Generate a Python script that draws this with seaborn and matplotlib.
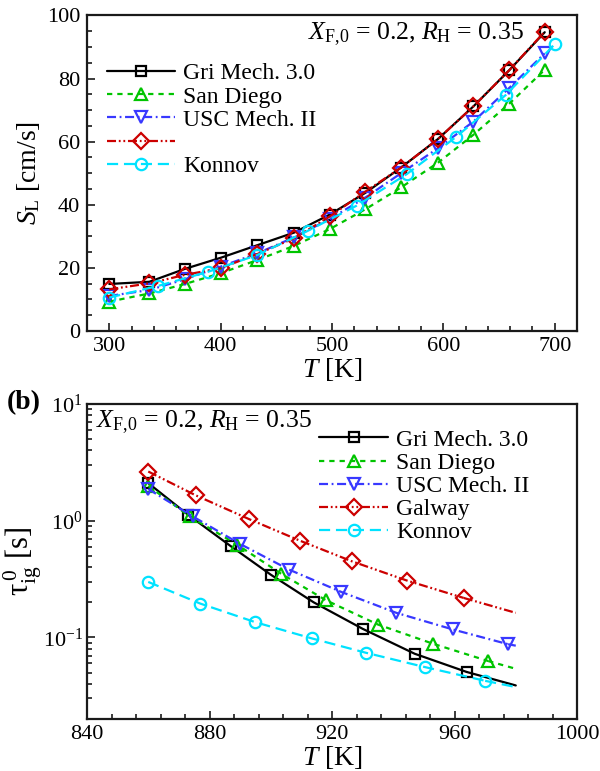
import matplotlib
matplotlib.use("Agg")
import matplotlib.pyplot as plt
import seaborn as sns
import numpy as np
from matplotlib.ticker import MultipleLocator, LogLocator, NullFormatter

# ---------------- data: panel (a) laminar flame speed ----------------
T_a = [300, 336, 368, 400, 433, 466, 498, 530, 562, 595, 627, 659, 691]
SL_gri = [14.9, 15.6, 19.7, 23.2, 27.2, 31.2, 36.9, 43.8, 51.8, 60.8, 71.2, 82.6, 94.7]
SL_sandiego = [9.3, 11.9, 14.9, 18.3, 22.5, 27.0, 32.3, 38.6, 45.5, 53.3, 62.2, 72.0, 82.8]
SL_usc = [11.1, 13.0, 16.4, 20.4, 24.6, 29.7, 35.5, 42.3, 50.0, 57.9, 66.4, 77.0, 88.0]
SL_galway = [13.2, 15.1, 17.8, 19.9, 24.4, 29.4, 36.3, 44.2, 51.8, 60.8, 71.2, 82.6, 94.9]
T_a_konnov = [300, 344, 389, 433, 478, 522, 567, 611, 656, 700]
SL_konnov = [10.6, 14.3, 18.8, 24.1, 31.7, 39.7, 49.7, 61.4, 74.8, 90.9]

# ---------------- data: panel (b) ignition delay ----------------
T_b_gri = [860, 873, 887, 900, 914, 930, 947, 964]
tau_gri = [2.10, 1.125, 0.604, 0.345, 0.200, 0.1186, 0.0725, 0.0506]
T_b_sandiego = [860, 873.5, 889, 903.5, 918, 935, 953, 971]
tau_sandiego = [1.99, 1.09, 0.624, 0.35, 0.2085, 0.129, 0.0883, 0.0628]
T_b_usc = [860, 874.5, 890, 906, 923, 941, 959.5, 977.5]
tau_usc = [1.87, 1.09, 0.632, 0.381, 0.2456, 0.1625, 0.117, 0.0875]
T_b_galway = [860, 875.5, 893, 909.5, 926.5, 944.5, 963]
tau_galway = [2.64, 1.65, 1.03, 0.675, 0.449, 0.307, 0.218]
T_b_konnov = [860, 877, 895, 913.5, 931, 950.5, 970]
tau_konnov = [0.299, 0.195, 0.135, 0.098, 0.074, 0.0556, 0.0425]
# curve end points (no marker)
T_b_end = 980
tau_end_gri = 0.0388
tau_end_sandiego = 0.0539
tau_end_usc = 0.085
tau_end_galway = 0.1625
tau_end_konnov = 0.0376

labels = ["Gri Mech. 3.0", "San Diego", "USC Mech. II", "Galway", "Konnov"]
hide_label_a = [False, False, False, True, False]   # panel (a) legend shows no Galway text

# ---------------- styles ----------------
colors = ["#000000", "#00C400", "#3838FF", "#CC0000", "#00E2FF"]
markers = ["s", "^", "v", "D", "o"]
msizes = [7.8, 9.2, 9.2, 7.8, 8.2]
lstyles = ["-", (0, (3.8, 3.6)), (0, (6.5, 2.6, 1.3, 2.6)),
           (0, (6.5, 2.0, 1.3, 2.0, 1.3, 2.0)), (0, (8.0, 4.2))]

sns.set_style("ticks")
plt.rcParams.update({
    "font.family": ["Liberation Serif", "DejaVu Serif"],
    "mathtext.fontset": "custom",
    "mathtext.rm": "Liberation Serif",
    "mathtext.it": "Liberation Serif:italic",
    "mathtext.bf": "Liberation Serif:bold",
    "lines.scale_dashes": False,
    "axes.edgecolor": "#1a1a1a",
    "axes.linewidth": 1.6,
    "text.color": "black",
    "axes.labelcolor": "black",
    "xtick.color": "#1a1a1a",
    "ytick.color": "#1a1a1a",
    "xtick.labelcolor": "black",
    "ytick.labelcolor": "black",
})

fig = plt.figure(figsize=(6.0, 7.71), dpi=100)
ax1 = fig.add_axes([0.145, 0.5707, 0.8167, 0.4092])
ax2 = fig.add_axes([0.145, 0.0674, 0.8167, 0.4086])


def draw(ax, x, y, i, label=None, with_markers=True):
    kw = dict(color=colors[i], linestyle=lstyles[i], linewidth=1.6)
    if with_markers:
        kw.update(marker=markers[i], markersize=msizes[i], markerfacecolor="none",
                  markeredgecolor=colors[i], markeredgewidth=1.6)
    else:
        kw.update(marker=None)
    if label is not None:
        kw["label"] = label
    sns.lineplot(x=x, y=y, ax=ax, errorbar=None, legend=False, sort=True, **kw)


legend_kw = dict(loc="upper left", frameon=False, fontsize=17, handlelength=2.9,
                 handletextpad=0.35, labelspacing=0.07, borderpad=0,
                 borderaxespad=0, numpoints=1)
annot = r"$X_{\mathrm{F{,}0}}$ = 0.2, $R_{\mathrm{H}}$ = 0.35"

# ---------------- panel (a) ----------------
series_a = [(T_a, SL_gri), (T_a, SL_sandiego), (T_a, SL_usc), (T_a, SL_galway),
            (T_a_konnov, SL_konnov)]
for i, (x, y) in enumerate(series_a):
    draw(ax1, x, y, i, label=labels[i])

ax1.set_xlim(280, 720)
ax1.set_ylim(0, 100)
ax1.xaxis.set_major_locator(MultipleLocator(100))
ax1.xaxis.set_minor_locator(MultipleLocator(20))
ax1.yaxis.set_major_locator(MultipleLocator(20))
ax1.yaxis.set_minor_locator(MultipleLocator(5))
ax1.set_xlabel(r"$T$ [K]", fontsize=20, labelpad=0)
ax1.set_ylabel(r"$S_{\mathrm{L}}$ [cm/s]", fontsize=20)
ax1.yaxis.set_label_coords(-0.092, 0.5)
ax1.text(0.892, 0.925, annot, transform=ax1.transAxes, ha="right", va="baseline",
         fontsize=18.5)
leg1 = ax1.legend(bbox_to_anchor=(0.04, 0.85), **legend_kw)
for t, hide in zip(leg1.get_texts(), hide_label_a):
    if hide:
        t.set_visible(False)

# ---------------- panel (b) ----------------
series_b = [(T_b_gri, tau_gri, tau_end_gri),
            (T_b_sandiego, tau_sandiego, tau_end_sandiego),
            (T_b_usc, tau_usc, tau_end_usc),
            (T_b_galway, tau_galway, tau_end_galway),
            (T_b_konnov, tau_konnov, tau_end_konnov)]
for i, (x, y, yend) in enumerate(series_b):
    draw(ax2, x, y, i, label=labels[i])
    draw(ax2, [x[-1], T_b_end], [y[-1], yend], i, with_markers=False)

ax2.set_yscale("log")
ax2.set_xlim(840, 1000)
ax2.set_ylim(0.02, 10)
ax2.xaxis.set_major_locator(MultipleLocator(40))
ax2.xaxis.set_minor_locator(MultipleLocator(8))
ax2.yaxis.set_major_locator(LogLocator(base=10, numticks=10))
ax2.yaxis.set_minor_locator(LogLocator(base=10, subs=np.arange(2, 10), numticks=20))
ax2.yaxis.set_minor_formatter(NullFormatter())
ax2.set_xlabel(r"$T$ [K]", fontsize=20, labelpad=0)
ax2.set_ylabel(r"$\mathrm{\tau}_{\mathrm{ig}}^{\,0}$ [s]", fontsize=22)
ax2.yaxis.set_label_coords(-0.088, 0.5)
ax2.text(0.018, 0.924, annot, transform=ax2.transAxes, ha="left", va="baseline",
         fontsize=18.5)
ax2.legend(bbox_to_anchor=(0.474, 0.92), **legend_kw)

for ax in (ax1, ax2):
    ax.tick_params(which="both", direction="in", top=False, right=False,
                   labelsize=16, width=1.2)
    ax.tick_params(which="major", length=6, pad=5)
    ax.tick_params(which="minor", length=3.5)
    ax.tick_params(axis="x", which="major", pad=4)
    for s in ax.spines.values():
        s.set_visible(True)
        s.set_linewidth(1.6)
ax2.tick_params(axis="y", which="major", pad=3)

fig.text(0.012, 1 - 390 / 771, "(b)", fontsize=20, fontweight="bold", va="top", ha="left")

fig.savefig("out.png", dpi=100)
